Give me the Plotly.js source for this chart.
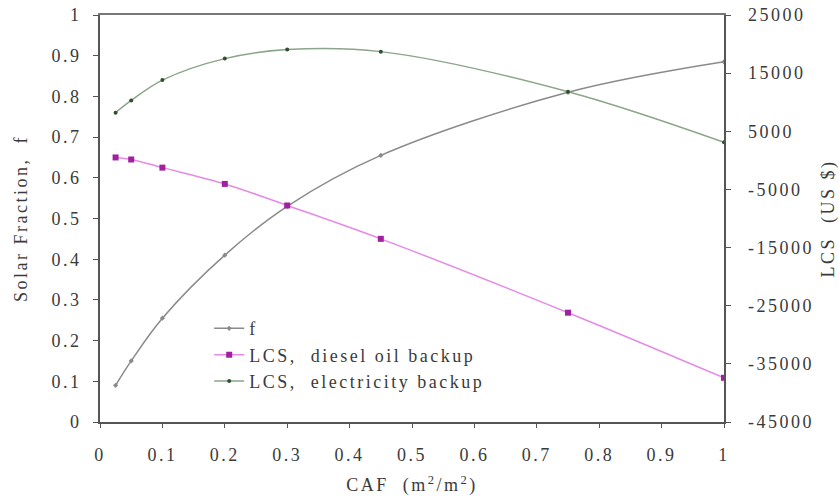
<!DOCTYPE html>
<html>
<head>
<meta charset="utf-8">
<script src="https://cdn.plot.ly/plotly-3.0.1.min.js"></script>
<style>
html,body{margin:0;padding:0;background:#fff;}
#chart{width:839px;height:498px;}
svg text{letter-spacing:2.5px;}
</style>
</head>
<body>
<div id="chart"></div>
<script>
const caf = [0.025, 0.05, 0.1, 0.2, 0.3, 0.45, 0.75, 1.0];
const solarFraction = [0.09, 0.15, 0.255, 0.41, 0.53, 0.655, 0.81, 0.885];
const lcsDiesel = [500, 150, -1250, -4050, -7760, -13500, -26200, -37400];
const lcsElectricity = [8200, 10300, 13800, 17500, 19050, 18700, 11800, 3100];
const xTicks = [0, 0.1, 0.2, 0.3, 0.4, 0.5, 0.6, 0.7, 0.8, 0.9, 1];
const yTicks = [0, 0.1, 0.2, 0.3, 0.4, 0.5, 0.6, 0.7, 0.8, 0.9, 1];
const y2Ticks = [-45000, -35000, -25000, -15000, -5000, 5000, 15000, 25000];

const fontFam = '"Liberation Serif", "Times New Roman", serif';
const txt = '#3a3a3a';
const fs = 18;

const traces = [
  {x: caf, y: solarFraction, name: 'f', mode: 'lines+markers', yaxis: 'y',
   line: {color: '#8a8a8a', width: 1.5, shape: 'spline'},
   marker: {color: '#8a8a8a', size: 4, symbol: 'diamond'}},
  {x: caf, y: lcsDiesel, name: 'LCS,  diesel oil backup', mode: 'lines+markers', yaxis: 'y2',
   line: {color: '#e58ae5', width: 1.5, shape: 'spline'},
   marker: {color: '#a020a0', size: 6, symbol: 'square'}},
  {x: caf, y: lcsElectricity, name: 'LCS,  electricity backup', mode: 'lines+markers', yaxis: 'y2',
   line: {color: '#8aa58a', width: 1.5, shape: 'spline'},
   marker: {color: '#2f4f2f', size: 4, symbol: 'circle'}}
];

const layout = {
  width: 839, height: 498,
  margin: {l: 100, r: 115, t: 15, b: 76},
  paper_bgcolor: '#fff', plot_bgcolor: '#fff',
  font: {family: fontFam, size: fs, color: txt},
  showlegend: true,
  legend: {x: 0.175, y: 0.275, xanchor: 'left', yanchor: 'top', bgcolor: 'rgba(0,0,0,0)',
           font: {family: fontFam, size: fs, color: txt}, tracegroupgap: 0, itemwidth: 30},
  xaxis: {range: [0, 1], tickvals: xTicks, ticktext: xTicks.map(String),
          showgrid: false, zeroline: false, showline: true, linecolor: '#555', linewidth: 2,
          ticks: 'outside', ticklen: 4, tickcolor: '#555', ticklabelstandoff: 11,
          title: {text: 'CAF  (m<sup>2</sup>/m<sup>2</sup>)', font: {family: fontFam, size: fs, color: txt}, standoff: 15},
          tickfont: {family: fontFam, size: fs, color: txt}},
  xaxis2: {overlaying: 'x', side: 'top', range: [0,1], showline: true, linecolor: '#777', linewidth: 2,
           showticklabels: false, ticks: '', showgrid: false, zeroline: false},
  yaxis: {range: [0, 1], tickvals: yTicks, ticktext: yTicks.map(String),
          showgrid: false, zeroline: false, showline: true, linecolor: '#555', linewidth: 2,
          ticks: 'outside', ticklen: 5, tickcolor: '#555', ticklabelstandoff: 8,
          title: {text: 'Solar Fraction,  f', font: {family: fontFam, size: fs, color: txt}, standoff: 19},
          tickfont: {family: fontFam, size: fs, color: txt}},
  yaxis2: {range: [-45000, 25000], tickvals: y2Ticks, ticktext: y2Ticks.map(String), overlaying: 'y', side: 'right',
           showgrid: false, zeroline: false, showline: true, linecolor: '#555', linewidth: 1.5,
           ticks: 'outside', ticklen: 5, tickcolor: '#555', ticklabelstandoff: 14,
           title: {text: 'LCS  (US $)', font: {family: fontFam, size: fs, color: txt}, standoff: 14},
           tickfont: {family: fontFam, size: fs, color: txt}}
};
traces.push({x: [0, 1], y: [null, null], xaxis: 'x2', yaxis: 'y', showlegend: false, hoverinfo: 'skip', mode: 'lines'});

Plotly.newPlot('chart', traces, layout, {displayModeBar: false, staticPlot: true});
</script>
</body>
</html>
